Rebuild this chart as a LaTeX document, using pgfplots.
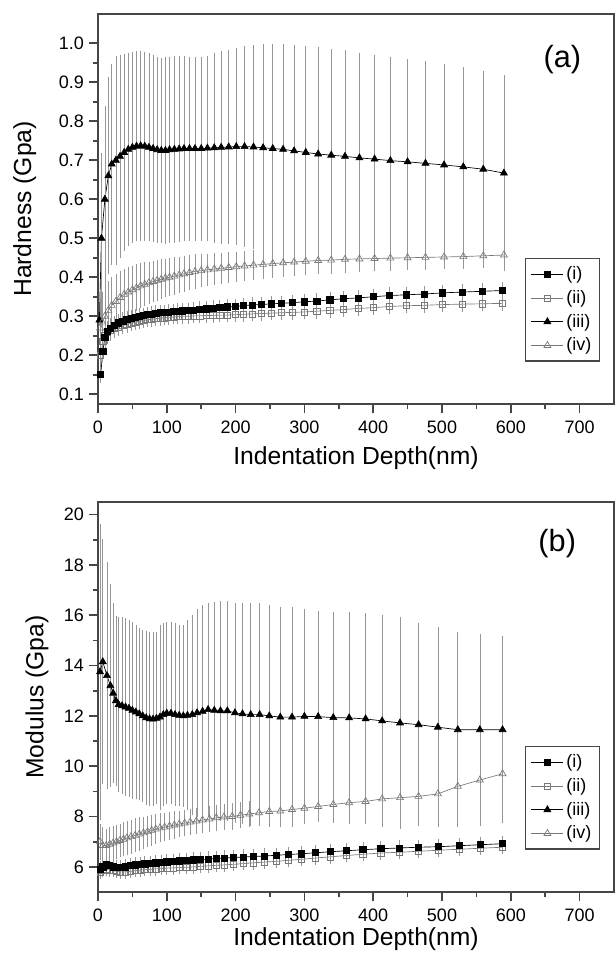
\documentclass[border=0pt]{standalone}
\usepackage{pgfplots}
\usepackage{pgfplotstable}
\pgfplotsset{compat=1.18}
\usepackage{fontspec}
\setmainfont{Liberation Sans}
\setsansfont{Liberation Sans}

\definecolor{framecol}{RGB}{70,70,70}
\definecolor{ebar}{RGB}{150,150,150}
\definecolor{gline}{RGB}{120,120,120}

% ---------- hardness (a) ----------
\pgfplotstableread{
x y e
4 0.152 0.015
7 0.210 0.020
10 0.245 0.020
14 0.262 0.018
18 0.270 0.017
24 0.277 0.016
30 0.283 0.015
36 0.288 0.014
42 0.292 0.014
48 0.295 0.013
54 0.298 0.013
60 0.300 0.013
66 0.302 0.012
72 0.304 0.012
78 0.306 0.012
84 0.308 0.012
90 0.309 0.012
96 0.310 0.012
102 0.311 0.012
109 0.312 0.012
116 0.313 0.012
123 0.314 0.012
131 0.315 0.012
139 0.316 0.012
148 0.318 0.012
157 0.319 0.012
167 0.321 0.012
177 0.322 0.012
188 0.324 0.012
199 0.325 0.012
211 0.327 0.012
224 0.329 0.012
238 0.330 0.012
252 0.332 0.012
267 0.333 0.012
283 0.335 0.012
300 0.337 0.012
318 0.339 0.012
337 0.342 0.012
357 0.345 0.013
378 0.347 0.013
400 0.350 0.013
423 0.353 0.013
448 0.355 0.013
474 0.357 0.013
501 0.360 0.013
529 0.362 0.013
558 0.364 0.013
588 0.366 0.013
}\HaI
\pgfplotstableread{
x y e
4 0.200 0.030
7 0.235 0.025
10 0.250 0.022
14 0.258 0.020
18 0.263 0.018
24 0.268 0.016
30 0.272 0.015
36 0.276 0.014
42 0.279 0.013
48 0.282 0.012
54 0.285 0.012
60 0.287 0.012
66 0.289 0.011
72 0.291 0.011
78 0.292 0.011
84 0.294 0.011
90 0.295 0.011
96 0.296 0.011
102 0.297 0.011
109 0.298 0.011
116 0.299 0.011
123 0.300 0.011
131 0.300 0.011
139 0.301 0.011
148 0.301 0.011
157 0.302 0.011
167 0.302 0.011
177 0.303 0.011
188 0.303 0.011
199 0.304 0.011
211 0.305 0.011
224 0.306 0.011
238 0.307 0.011
252 0.308 0.011
267 0.309 0.011
283 0.310 0.011
300 0.311 0.011
318 0.313 0.011
337 0.315 0.011
357 0.317 0.011
378 0.320 0.011
400 0.322 0.011
423 0.325 0.011
448 0.327 0.011
474 0.328 0.011
501 0.330 0.011
529 0.331 0.011
558 0.332 0.011
588 0.333 0.011
}\HaII
\pgfplotstableread{
x y e
2 0.290 0.000
5 0.500 0.210
10 0.600 0.230
15 0.660 0.245
20 0.690 0.250
26 0.700 0.260
32 0.710 0.252
38 0.720 0.245
44 0.728 0.240
50 0.733 0.237
56 0.736 0.236
62 0.737 0.236
68 0.736 0.234
74 0.733 0.233
80 0.730 0.233
86 0.727 0.231
92 0.725 0.230
98 0.725 0.232
104 0.727 0.231
111 0.728 0.232
118 0.729 0.231
125 0.730 0.230
133 0.730 0.228
141 0.730 0.228
150 0.730 0.228
159 0.731 0.229
169 0.732 0.236
179 0.733 0.239
190 0.734 0.242
201 0.735 0.245
213 0.735 0.249
226 0.734 0.254
240 0.732 0.258
254 0.730 0.260
269 0.728 0.262
285 0.724 0.264
302 0.720 0.265
320 0.716 0.266
339 0.713 0.265
359 0.710 0.264
380 0.706 0.262
402 0.703 0.260
425 0.699 0.259
450 0.696 0.256
476 0.692 0.254
503 0.688 0.252
531 0.683 0.249
560 0.677 0.245
590 0.667 0.243
}\HaIII
\pgfplotstableread{
x y e
3 0.270 0.070
6 0.285 0.070
10 0.300 0.070
15 0.315 0.068
20 0.328 0.065
26 0.338 0.062
32 0.348 0.060
38 0.356 0.058
44 0.362 0.056
50 0.368 0.054
56 0.373 0.052
62 0.378 0.050
68 0.382 0.048
74 0.386 0.046
80 0.389 0.045
86 0.392 0.044
92 0.395 0.043
98 0.398 0.042
104 0.400 0.041
111 0.403 0.040
118 0.406 0.039
125 0.409 0.038
133 0.412 0.037
141 0.415 0.036
150 0.417 0.035
159 0.419 0.034
169 0.421 0.033
179 0.423 0.032
190 0.425 0.031
201 0.427 0.031
213 0.429 0.030
226 0.431 0.030
240 0.433 0.030
254 0.435 0.029
269 0.437 0.029
285 0.439 0.028
302 0.441 0.028
320 0.443 0.027
339 0.444 0.027
359 0.446 0.026
380 0.447 0.026
402 0.448 0.025
425 0.449 0.025
450 0.450 0.024
476 0.451 0.024
503 0.452 0.023
531 0.453 0.023
560 0.455 0.022
590 0.457 0.022
}\HaIV

% ---------- modulus (b) ----------
\pgfplotstableread{
x y e
3 5.90 0.20
7 6.00 0.20
12 6.10 0.20
17 6.05 0.20
22 6.00 0.18
27 5.98 0.18
33 5.98 0.18
40 6.00 0.18
47 6.05 0.18
54 6.08 0.18
61 6.10 0.18
68 6.12 0.18
76 6.14 0.18
84 6.16 0.18
92 6.18 0.18
100 6.20 0.18
109 6.22 0.18
118 6.24 0.18
128 6.26 0.18
138 6.28 0.18
149 6.30 0.18
160 6.31 0.18
172 6.33 0.18
184 6.35 0.18
197 6.37 0.18
211 6.39 0.18
226 6.41 0.18
242 6.43 0.18
259 6.46 0.18
277 6.49 0.18
296 6.52 0.18
316 6.56 0.18
338 6.60 0.18
361 6.64 0.18
385 6.68 0.18
411 6.72 0.18
438 6.75 0.18
466 6.78 0.18
495 6.80 0.18
525 6.84 0.18
556 6.88 0.18
588 6.92 0.18
}\MoI
\pgfplotstableread{
x y e
3 5.80 0.15
7 5.85 0.15
12 5.90 0.15
17 5.88 0.15
22 5.85 0.15
27 5.82 0.15
33 5.80 0.15
40 5.80 0.15
47 5.82 0.15
54 5.85 0.15
61 5.87 0.15
68 5.89 0.15
76 5.90 0.15
84 5.92 0.15
92 5.93 0.15
100 5.95 0.15
109 5.96 0.15
118 5.97 0.15
128 5.98 0.15
138 6.00 0.15
149 6.02 0.15
160 6.04 0.15
172 6.06 0.15
184 6.08 0.15
197 6.10 0.15
211 6.13 0.15
226 6.16 0.15
242 6.19 0.15
259 6.22 0.15
277 6.26 0.15
296 6.30 0.15
316 6.35 0.15
338 6.40 0.15
361 6.45 0.15
385 6.50 0.15
411 6.55 0.15
438 6.58 0.15
466 6.62 0.15
495 6.66 0.15
525 6.70 0.15
556 6.74 0.15
588 6.78 0.15
}\MoII
\pgfplotstableread{
x y e
3 13.75 5.75
7 14.15 4.75
13 13.60 4.40
18 13.20 3.90
22 12.90 3.45
26 12.60 3.25
30 12.45 3.35
35 12.40 3.40
40 12.35 3.40
45 12.30 3.40
50 12.22 3.40
55 12.15 3.35
60 12.08 3.30
65 12.00 3.30
70 11.92 3.35
75 11.88 3.35
80 11.87 3.33
85 11.90 3.30
90 11.95 3.55
95 12.05 3.50
100 12.10 3.50
106 12.10 3.50
112 12.05 3.50
118 12.02 3.48
124 12.00 3.50
130 12.02 3.65
137 12.05 3.85
144 12.12 4.00
152 12.18 4.10
160 12.25 4.10
169 12.22 4.20
178 12.20 4.25
188 12.20 4.25
199 12.12 4.25
210 12.08 4.27
222 12.05 4.30
235 12.05 4.30
249 12.00 4.30
265 11.95 4.25
282 11.95 4.25
300 11.98 4.15
320 11.97 4.08
342 11.93 4.07
365 11.92 4.08
389 11.88 4.07
413 11.80 4.10
439 11.72 4.08
466 11.65 3.90
494 11.55 3.85
523 11.45 3.75
555 11.45 3.70
588 11.45 3.60
}\MoIII
\pgfplotstableread{
x y e
3 7.00 0.60
7 6.85 0.60
12 6.85 0.55
17 6.90 0.55
22 6.95 0.55
27 7.00 0.55
32 7.05 0.55
37 7.10 0.55
42 7.15 0.55
48 7.20 0.55
54 7.25 0.55
60 7.30 0.55
66 7.35 0.52
72 7.40 0.50
78 7.45 0.48
84 7.50 0.46
90 7.55 0.45
97 7.58 0.44
104 7.62 0.43
111 7.66 0.42
118 7.70 0.41
126 7.74 0.40
134 7.78 0.40
143 7.82 0.40
152 7.86 0.40
162 7.90 0.40
172 7.95 0.40
183 7.98 0.40
195 8.00 0.40
207 8.05 0.40
220 8.10 0.40
234 8.15 0.40
249 8.20 0.40
265 8.22 0.40
282 8.28 0.40
300 8.33 0.40
320 8.40 0.40
342 8.48 0.42
365 8.55 0.45
389 8.60 0.48
413 8.70 0.50
439 8.75 0.50
466 8.80 0.50
494 8.90 0.55
523 9.20 0.65
555 9.45 0.80
588 9.70 0.90
}\MoIV

\pgfplotsset{
  panel/.style={
    width=387pt, height=292.5pt, scale only axis, anchor=south west,
    xmin=0, xmax=750, xtick={0,100,...,700}, minor x tick num=1,
    xtick pos=bottom, ytick pos=left,
    xtick align=outside, ytick align=outside,
    major tick length=7pt, minor tick length=4pt,
    axis line style={framecol, line width=1.5pt},
    major tick style={framecol, line width=1.3pt},
    minor tick style={framecol, line width=1.3pt},
    ticklabel style={font=\fontsize{13.5}{15}\selectfont},
    xticklabel style={yshift=-2pt},
    /pgf/number format/assume math mode=true,
    label style={font=\fontsize{18.5}{21}\selectfont},
    xlabel={Indentation Depth(nm)},
    legend style={at={(rel axis cs:0.973,0.374)}, anchor=north east,
      draw=framecol, line width=1pt, font=\fontsize{13.5}{15}\selectfont,
      row sep=2.5pt, inner xsep=4pt, inner ysep=4pt},
    legend cell align=left,
    legend image code/.code={\draw[mark repeat=2,mark phase=2,#1]
      plot coordinates {(0pt,0pt) (12pt,0pt) (24pt,0pt)};},
    error bars/error bar style={ebar, line width=0.5pt},
    error bars/error mark options={ebar, mark size=2.3pt, line width=0.5pt},
  },
  si/.style={black, line width=0.5pt, mark=square*, mark size=2.3pt, mark options={solid, fill=black}},
  sii/.style={gline, line width=0.5pt, mark=square, mark size=2.3pt, mark options={solid, fill=white, draw=gline}},
  siii/.style={black, line width=0.5pt, mark=triangle*, mark size=3pt, mark options={solid, fill=black}},
  siv/.style={gline, line width=0.5pt, mark=triangle, mark size=3pt, mark options={solid, fill=white, draw=gline}},
  eb/.style={error bars/y dir=both, error bars/y explicit},
}

\begin{document}
\begin{tikzpicture}
\useasboundingbox (0,0) rectangle (461.25pt,-717pt);

\begin{axis}[panel, at={(73.5pt,-303pt)},
  ymin=0.075, ymax=1.075, ytick={0.1,0.2,...,1.0}, minor y tick num=1,
  yticklabel style={/pgf/number format/.cd, fixed, fixed zerofill, precision=1},
  xlabel style={yshift=-3pt},
  ylabel={Hardness (Gpa)},
  ylabel style={at={(rel axis cs:-0.142,0.5)}, anchor=center}]
\addlegendimage{si}\addlegendentry{(i)}
\addlegendimage{sii}\addlegendentry{(ii)}
\addlegendimage{siii}\addlegendentry{(iii)}
\addlegendimage{siv}\addlegendentry{(iv)}
\addplot[siii, eb, forget plot] table[x=x, y=y, y error=e] {\HaIII};
\addplot[siv, eb, forget plot] table[x=x, y=y, y error=e] {\HaIV};
\addplot[sii, eb, forget plot] table[x=x, y=y, y error=e] {\HaII};
\addplot[si, eb, forget plot] table[x=x, y=y, y error=e] {\HaI};
\node[font=\fontsize{23}{25}\selectfont] at (rel axis cs:0.9,0.882) {(a)};
\end{axis}

\begin{axis}[panel, at={(73.5pt,-669pt)},
  ymin=5, ymax=20.5, ytick={6,8,...,20}, minor y tick num=1,
  xlabel style={yshift=2pt},
  ylabel={Modulus (Gpa)},
  ylabel style={at={(rel axis cs:-0.118,0.5)}, anchor=center}]
\addlegendimage{si}\addlegendentry{(i)}
\addlegendimage{sii}\addlegendentry{(ii)}
\addlegendimage{siii}\addlegendentry{(iii)}
\addlegendimage{siv}\addlegendentry{(iv)}
\addplot[siii, eb, forget plot] table[x=x, y=y, y error=e] {\MoIII};
\addplot[siv, eb, forget plot] table[x=x, y=y, y error=e] {\MoIV};
\addplot[sii, eb, forget plot] table[x=x, y=y, y error=e] {\MoII};
\addplot[si, eb, forget plot] table[x=x, y=y, y error=e] {\MoI};
\node[font=\fontsize{23}{25}\selectfont] at (rel axis cs:0.89,0.894) {(b)};
\end{axis}
\end{tikzpicture}
\end{document}
